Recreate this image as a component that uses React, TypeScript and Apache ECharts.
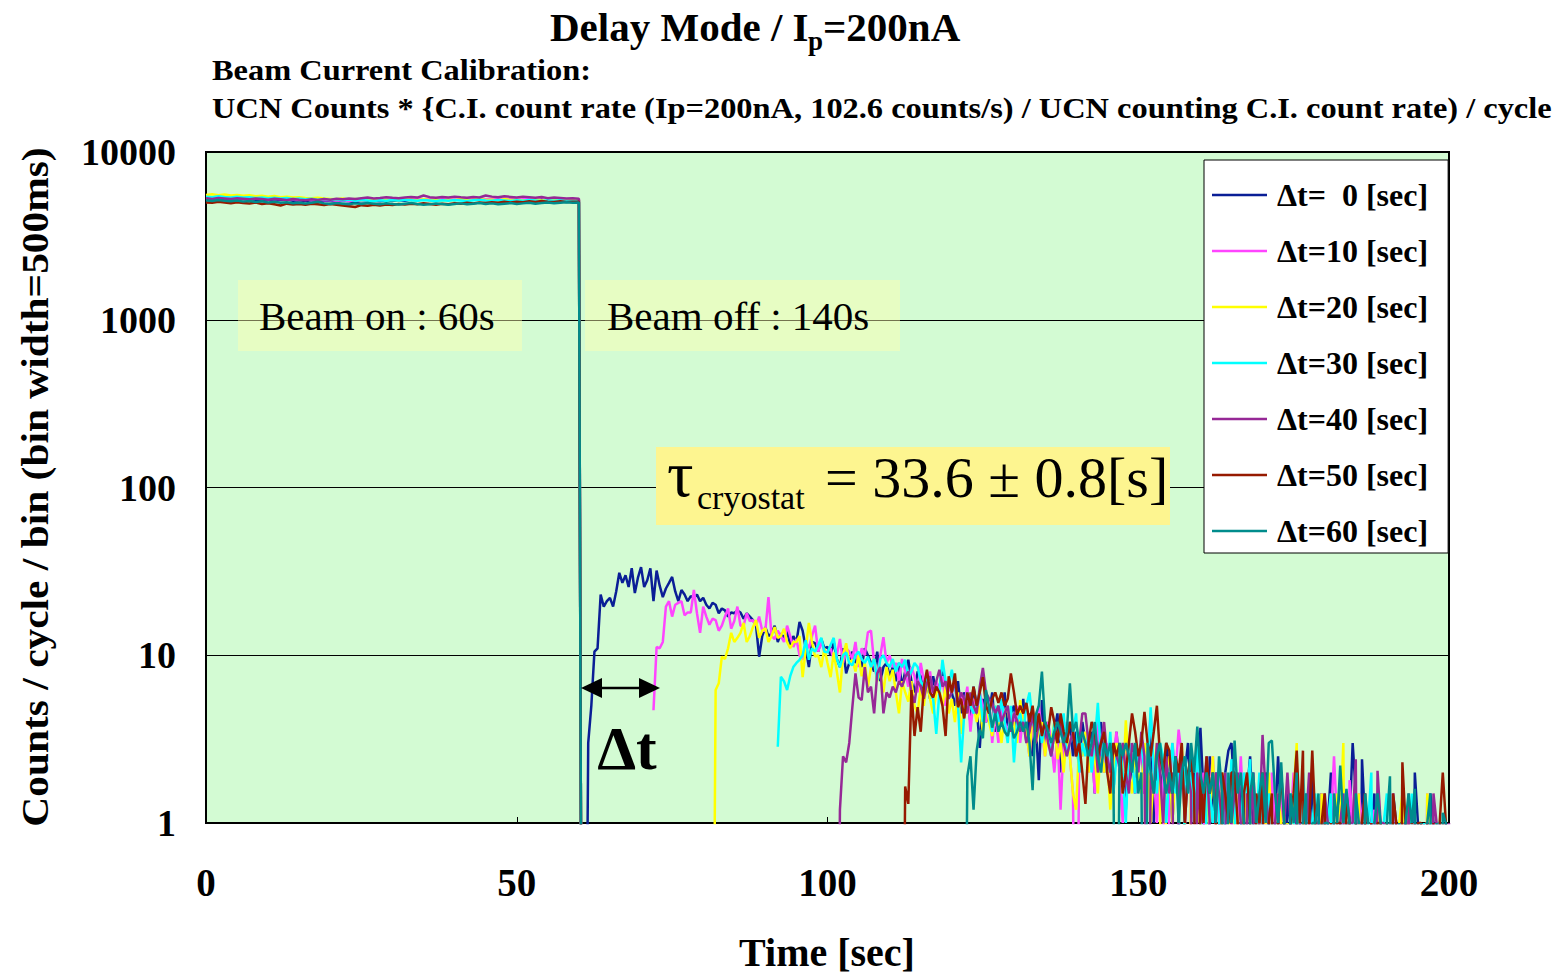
import { useEffect, useRef } from 'react';
import * as echarts from 'echarts';

const FONT = '"Liberation Serif", "Times New Roman", Times, serif';

// ---- legend / series names and colours
const seriesNames = ['Δt=  0 [sec]', 'Δt=10 [sec]', 'Δt=20 [sec]', 'Δt=30 [sec]', 'Δt=40 [sec]', 'Δt=50 [sec]', 'Δt=60 [sec]'];
const seriesColors = ['#0a1e96', '#ff44ff', '#ffff00', '#00ffff', '#962896', '#961a00', '#008c8c'];

// ---- ticks
const xTicks = [0, 50, 100, 150, 200];
const yTicks = [1, 10, 100, 1000, 10000];

// ---- beam-on part: one value per second, t = 0 ... 60 s
const beamOn0 = [5300,5280,5320,5250,5300,5260,5220,5250,5200,5180, 5220,5150,5180,5200,5120,5160,5100,5150,5080,5120, 5100,5050,5120,5080,5020,5100,5060,5120,5080,5150, 5100,5180,5120,5200,5160,5220,5180,5150,5200,5230, 5180,5220,5160,5200,5250,5180,5220,5260,5200,5180, 5230,5200,5250,5180,5220,5200,5160,5200,5180,5150,5180];
const beamOn10 = [5350,5320,5380,5300,5340,5280,5320,5260,5300,5240, 5280,5220,5260,5200,5240,5180,5220,5160,5200,5150, 5180,5120,5160,5100,5150,5120,5180,5140,5200,5160, 5220,5180,5250,5200,5280,5230,5260,5200,5240,5280, 5230,5260,5300,5240,5280,5220,5260,5300,5250,5220, 5260,5230,5280,5240,5200,5250,5220,5260,5230,5200,5220];
const beamOn20 = [5550,5600,5520,5580,5500,5540,5480,5520,5450,5480, 5420,5460,5380,5420,5350,5380,5320,5300,5340,5280, 5250,5220,5280,5200,5240,5150,5200,5180,5220,5160, 5200,5180,5240,5200,5160,5220,5180,5200,5150,5200, 5180,5220,5160,5200,5240,5180,5200,5160,5220,5180, 5200,5150,5180,5220,5160,5200,5180,5150,5200,5170,5180];
const beamOn30 = [5420,5380,5450,5400,5360,5420,5350,5380,5320,5350, 5300,5340,5280,5320,5250,5280,5220,5260,5200,5240, 5180,5220,5150,5200,5120,5180,5140,5100,5160,5120, 5180,5140,5200,5160,5120,5180,5140,5100,5160,5120, 5180,5140,5100,5160,5200,5140,5120,5180,5140,5100, 5160,5120,5180,5140,5100,5160,5120,5150,5130,5100,5120];
const beamOn40 = [5300,5250,5320,5280,5240,5300,5260,5220,5280,5240, 5200,5260,5220,5180,5250,5200,5160,5220,5180,5240, 5200,5260,5220,5280,5240,5300,5350,5280,5320,5380, 5330,5300,5360,5400,5350,5500,5380,5340,5400,5360, 5420,5370,5330,5400,5360,5500,5420,5380,5440,5400, 5360,5420,5380,5340,5400,5300,5350,5320,5280,5300,5260];
const beamOn50 = [5000,4980,5050,5000,4950,5020,4970,4930,5000,4900, 4950,4880,4800,4920,4870,4900,4850,4920,4880,4830, 4900,4850,4800,4750,4700,4820,4780,4850,4800,4870, 4830,4900,4860,4920,4880,4950,4900,4850,4920,4880, 4950,4910,4980,4940,5000,4960,5020,4980,5050,5000, 5060,5020,5080,5040,5100,5060,5030,5080,5040,5060,5050];
const beamOn60 = [5150,5100,5180,5120,5080,5140,5060,5100,5040,5080, 5000,5050,4980,5020,4950,4990,4930,4980,5050,4940, 4900,4960,4920,4880,4940,4900,4960,4920,4880,4950, 4900,4860,4920,4960,4900,4850,4880,4930,4890,4850, 4900,4940,4880,4920,4960,4900,4940,4880,4920,4960, 4900,4940,4980,4920,4960,5000,4950,4990,5020,4980,5000];

// ---- beam-off part: 0.5 s bins, starting at decayStart[i]; 0 = empty bin
const decayStart = [60.5, 72.0, 80.0, 92.0, 101.5, 111.5, 121.5];

const decay0 = [0,0,3,5,10.5,11,23,19.5,21, 22,19.5,24,31,27,30,25.5,33,23.5,29,
  33.5,25.5,28,33,21,32,26,22.2,25,27, 29.3,24,21,24.5,23,21,22.5,22,23,21,
  22,20,19,20.5,20,17.8,19,18.5,17,18, 17.8,18.5,18,16.5,17.8,17,16.2,15,9.8,13,
  14.7,13,13.5,15,12,13.5,12.7,14,11.5,13, 12,15.8,14,11,8.5,12,11.8,10.5,12.5,11,
  11.2,10,12,9.5,8.5,11,7.8,9,10.5,9, 9.8,8.5,11,10,9,8,10.5,7,8.5,9,
  7.5,8.5,7,9,6.5,8,9.4,7,6,8, 7.5,6,7,5.5,7.5,6,6.5,8,5.5,6.5,
  6,5,7,4.5,6,5.5,4,6.5,5,2.8, 5.5,4,4.5,6,3.5,5,4,6,3.5,4.5,
  5,3.5,4,5.5,3,4.5,2.5,4,1.8,5.4, 3,4,2.5,3.5,4.5,2,3.5,3,4,2.5,
  3.5,2,4,3,2.5,3.5,1.5,3,4,2, 2.5,3,1.5,3.5,2,2.5,1.2,3,2,1.5,
  2.5,3,1.5,2,3.5,1,2.5,2,1.5,3, 2,1,2.5,1.5,0,2,3,1.5,2,1,
  3.7,1.5,0,2.5,1,2,1.5,0,2,2.7, 3,1.5,1,2,0,1.5,2.5,1,0,1.5,
  1,2,1.5,0,1,2.5,1,0,1.5,1, 0,2,1,0,1.5,1,2,0,1,1.5,
  0,1,2,1,0,1.5,0,1,1,3, 1.5,0,2.4,1,0,1,1.5,0,1,0,
  1,0,1.5,1,0,0,1,1,0,2, 1,0,1,0,1.5,1,0,1,0,1,
  0];
const decay10 = [4.7,11.2,11,12,19.5,21,17,20,20.5,21,17.3,18,18,24.5,17.8,13.6,
  19.5,17,15.2,16.5,16.2,14,15,17,19,14.4, 16,19.5,15,15,17.8,16,16.2,15,17,14,
  14,22.2,13,12.5,14,13,12,15,13,11.2, 12.5,10,9.4,12,11,13,15,10.5,12,10.5,
  10.5,11,9.4,10,12.5,9,11,10.5,9.5,12, 8.5,11,10,13.7,14,9,7.1,10,12.8,9,
  10,8.5,9,7,9.5,8,6.5,8.5,7.5,6, 9,7,6.5,8,5.5,7,6,7.5,5,6.5,
  6,7,4.5,6,5,6.5,3.5,5.5,4.5,6, 5,4,5.5,3,4.5,3,5,4,3.5,4.5,
  4,5,3,4.5,3.5,2.5,4,3,5,3.5, 2.5,4,3,2,3.5,1.2,3,4,2.5,1.5,
  0,3,2.5,3.5,2,3,1.5,4,2.5,2, 3,1.5,2.5,3.5,2,1,3,2,2.5,1.5,
  2,3,1.5,2.5,4.5,2,1,2.5,2,0, 1.5,3,2,3.6,2.5,1.5,0,2,1,2.5,
  1,2,0,1.5,2.5,1,2,0,1.5,1, 2,0,1,2.5,1,0,1.5,2,1,0,
  1.5,1,0,2,1,0,1.5,1,0,1, 2,0,1,0,1.5,1,0,1,0,1.5,
  1,0,1,2.5,1,0,1.5,0,1.8,1, 0,1.5,1,0,0,1,1.2,0,1,0,
  1,0,1.5,0,1,0,1,1,0,1, 0,1,0,1.5,0,1,0,1,0,1,
  0];
const decay20 = [0,0,0,0,6.2,6.8,9.8,9.5,11,13.6, 12,12.7,13.6,15.6,12,13,14.7,16.2,12.7,14,
  14.5,12,13,14.7,12.7,13,14.4,12,11,12, 12,13,7.4,11,15.6,12,9.8,10,8.5,11,
  9,7.4,10.4,8,6,10,11.8,9,9.4,8, 10,7.5,9,6.5,8.5,9.5,7,8,6,8.5,
  7,8.2,6,4.5,7,6,5.3,7,5,4.5, 6.5,5,7,5.5,4.5,6,6.2,5,6.5,4.5,
  5.5,4,6,3.4,5,4.5,6,5,4,5, 3.5,5.5,4,3.3,5,4,3,4.5,5,3.5,
  4,3,5.4,4,3.5,2.5,4.5,3,3.5,4, 2.5,3.5,3,4,2.4,3,2,3.5,2.5,1.5,
  1.2,3,2.5,3.5,2,3,2.5,1.5,3,2, 2.5,1.2,2,3,2.5,1.5,4.1,2,1.5,2.5,
  2,1.5,3,2.5,1,2,3,1.5,0,2, 2.5,1,2,1.5,3,1,0,2,1.5,1,
  2,0,1.5,1,2.5,1,0,2,1,1.5, 0,2,1,0,1.5,1,2,0,1,1.5,
  0,1,2,1,0,1.5,1,0,1,0, 1.5,3,0,1,1,0,1,1,0,1.5,
  1,0,1,0,1.5,1,3,0,1,0, 1,1.5,0,1,0,1,0,1.2,1,0,
  1,0,1,0,1,1.5,0,1,0,1, 0,1,0,1.5,1,0,1,0,1,0,
  0];
const decay30 = [2.85,7.45,7,6.2,7.5,8.5,9,9.4,10,12.3, 9.4,11,10.5,11.5,12.7,10.5,10.4,11.5,12.7,9.5,
  8.5,10,10.4,9,8.7,10,10.5,9.5,9,9.8, 8.5,9.5,7.1,9.5,10,9,8.5,9.5,8,9,
  8.5,9.4,7.5,8,9,8.5,7,6.5,7.5,6, 5.5,3.4,6,9.4,7,6.5,8.2,6.5,5,2.3,
  4.5,6,5,4.5,5.2,6,4,5,4.5,3.5, 5,4,5.5,4,3,5,2.3,4,4.5,3.5,
  5,6,4,3.5,4.5,3,4,3.5,2.5,4, 3,3.5,4.5,2.5,3,3.5,4.5,2,3,2.5,
  3.5,2,3,5.2,2.5,3,2,3.5,1.5,2.5, 3,2,1,3,2.5,1.5,2.5,3,2,2,
  4.9,2,1.5,3,2.5,1,2,3,1.5,2, 0,2.5,1.5,2,1,3,1.5,0,2,1.5,
  1,2,1.5,0,2,1,2.4,1.5,0,1, 2,1.5,2.4,0,1,2,1,0,1.5,1,
  0,1,2,1,0,1.5,1,0,1,2, 1,0,1,1.5,0,1,0,1,1.5,0,
  1,0,1.5,1,0,1,1.5,0,1,0, 1,2,0,1,0,1,1.5,0,1,0,
  1,0,1,0,1.5,0,1,0,1,0, 1,0,1,1,0,1,0];
const decay40 = [0,1.2,2.5,2.3,3,4.9,7.8,5.6,5.4,8.5, 6,6.5,4.5,7.8,8.5,4.5,6,5.6,6.5,6,
  7,6.5,7.4,8,6,5.2,7,6.5,5.5,6.8, 7.5,6,7,8.2,6.5,7,5.5,6,7,5,
  6,5.5,4.5,6,5,4.5,6.5,8.4,6,5.5, 5.2,4.5,5,4,4.5,5,3.5,4.5,4.1,3.5,
  4,3,3.5,4.5,3,4,3.5,4,3,2.5, 3.5,3,4,3,2.5,3,3.5,2.5,3,4.5,
  4.5,3,2.5,3.5,2,3,4,2.5,2,3, 2.5,2.2,3,2,1.5,3,2.5,2,3.5,2.5,
  0,2,1.5,3,2,1,2.5,1.5,2,0, 1.5,2.5,1,2,1.5,0,2,1,1.5,2.5,
  1,0,2,1.5,1,2,0,1,1.5,2, 1,0,1.5,1,2,0,1,3.35,1.5,1,
  0,1,1.5,0,1,2,1,0,1,1.5, 0,1,2,0,1,1,0,1.5,1,0,
  1,0,1,1.5,0,1,1,2.4,0,1, 1.5,0,1,0,2.05,1,1,0,1,0,
  1,0,1,0,1.5,0,1,0,1,0, 1,0,1.5,1,0,1,0,1];
const decay50 = [0,0,1.65,1.3,6.2,3.3,4.9,3.5,6.5,8.2, 6,5.6,6.5,6,5,3.3,7.5,6,7.8,4.9,
  5.5,4.2,6,5,6.5,5,6,7.4,5,4.5, 5.5,6,5.2,6,5,5.5,7.8,6,4.4,5,
  4.5,5.2,4,5,3.5,4.5,3.3,4,3.5,4.9, 4,3,4.5,3.5,3,4,3.5,2.5,3,2,
  1.3,3,4,3.5,2.5,3,3.5,2,1.5,3, 2.5,3,1.5,2,3,4.5,3.5,2.5,3,4.6,
  3,2.5,3.5,5,2.5,2,3,2.7,1.5,2.5, 2,3,1,2,2.5,1.5,0,2,1,2.5,
  1.5,2,1,0,2,1.5,1,2,2,1, 0,1.5,2,1,0,1.5,1,2,0,1,
  1.5,0,1,2,1,0,1,1.5,2.7,1, 2.7,0,1,2.7,1,0,1,1.5,0,1,
  0,1,1,0,1.5,1,0,1,0,1, 1.5,0,1,0,1,1,0,1,0,1.5,
  1,0,2.3,1,0,1,0,1,1,0, 1,0,1,0,1,2,1,0];
const decay60 = [0,0,1.9,2.5,1.2,2.7,3.6,3.2,6.2,4.9, 3.7,4.5,3.5,4,3.5,3.3,4,3.2,3.5,4,
  3.5,4,3,1.57,4.4,5,8,4,3.5,3, 3.5,4,3.5,3,3.5,6.8,3.5,4,3,3.5,
  3,2.5,3,4,2.5,2,3,2.5,3,2, 0,3,2.5,3,2.5,2,3,1.5,2,0,
  3,2,1.5,2.5,3,2,1.5,2,1.5,2.5, 1,2,2.5,1.5,3,2,3.75,2,1.5,2,
  1.5,2,1,2.5,1.5,0,2,1,3.1,1.5, 2,1,0,1.5,2,1,1.5,2,1,3,
  3.1,1.5,1,2.3,1,0,1.5,1,2,0, 1,1.5,0,1,1,1.5,0,1,1,0,
  1.5,1,2.2,1,1.6,1,0,1.5,1,0, 1.5,1,0,1,1.5,1,0,1,1.9,0,
  0,1,0,1,1.5,1,1.6,0,1,0, 1,1.5,0,1,0,1.15,1,0];

const beamOnData = [beamOn0, beamOn10, beamOn20, beamOn30, beamOn40, beamOn50, beamOn60];
const decayData = [decay0, decay10, decay20, decay30, decay40, decay50, decay60];

const BEAM_STEP = 1;
const BIN = 0.5;
const BEAM_OFF_T = 60.5;
const FLOOR = 0.01; // empty bins sit below the log axis floor

function buildPoints(on: number[], start: number, dec: number[]) {
  const pts: (number | null)[][] = [];
  on.forEach((v, i) => pts.push([i * BEAM_STEP, v]));
  if (start > BEAM_OFF_T) {
    pts.push([BEAM_OFF_T, FLOOR]);
    pts.push([(BEAM_OFF_T + start) / 2, null]);
  }
  dec.forEach((v, i) => {
    const t = start + i * BIN;
    if (t <= 200) pts.push([t, v === 0 ? FLOOR : v]);
  });
  return pts;
}

function txt(text: string, x: number, y: number, size: number, o: any = {}) {
  const align = o.align || 'left';
  return {
    type: 'text',
    x,
    y,
    z: 120,
    rotation: o.rotation || 0,
    scaleX: o.scaleX || 1,
    style: {
      text,
      fontSize: size,
      fontFamily: FONT,
      fontWeight: o.bold === false ? 'normal' : 'bold',
      fill: '#000',
      align,
      textAlign: align,
      verticalAlign: 'middle',
      textVerticalAlign: 'middle',
    },
  };
}

export default function App() {
  const ref = useRef<HTMLDivElement>(null);
  useEffect(() => {
    const chart = echarts.init(ref.current!, null, { renderer: 'svg' });
    const series = seriesNames.map((name, i) => ({
      name,
      type: 'line',
      data: buildPoints(beamOnData[i], decayStart[i], decayData[i]),
      showSymbol: false,
      symbol: 'none',
      connectNulls: false,
      clip: true,
      lineStyle: { color: seriesColors[i], width: 2.5 },
      itemStyle: { color: seriesColors[i] },
      emphasis: { disabled: true },
      z: 2 + i * 0.01,
    }));

    const option: any = {
      animation: false,
      backgroundColor: '#ffffff',
      grid: {
        left: 206,
        right: 116,
        top: 152,
        bottom: 150,
        show: true,
        backgroundColor: '#d3fbd3',
        borderColor: '#000',
        borderWidth: 2,
      },
      xAxis: {
        type: 'value',
        min: xTicks[0],
        max: xTicks[xTicks.length - 1],
        interval: 50,
        axisLine: { show: true, lineStyle: { color: '#000', width: 2 } },
        axisTick: { show: true, inside: true, length: 6, lineStyle: { color: '#000', width: 1 } },
        splitLine: { show: false },
        axisLabel: {
          margin: 40,
          fontFamily: FONT,
          fontWeight: 'bold',
          fontSize: 39,
          color: '#000',
          formatter: (v: number) => String(v),
        },
      },
      yAxis: {
        type: 'log',
        logBase: 10,
        min: yTicks[0],
        max: yTicks[yTicks.length - 1],
        axisLine: { show: true, lineStyle: { color: '#000', width: 2 } },
        axisTick: { show: false },
        splitLine: { show: true, lineStyle: { color: '#000', width: 1 } },
        axisLabel: {
          margin: 30,
          fontFamily: FONT,
          fontWeight: 'bold',
          fontSize: 38,
          color: '#000',
          formatter: (v: number) => String(Math.round(v)),
        },
      },
      legend: {
        orient: 'vertical',
        left: 1204,
        top: 160,
        icon: 'rect',
        itemWidth: 55,
        itemHeight: 2.5,
        itemGap: 24,
        padding: [19, 20, 6, 8],
        backgroundColor: '#ffffff',
        borderColor: '#000',
        borderWidth: 1,
        borderRadius: 0,
        selectedMode: false,
        data: seriesNames,
        textStyle: {
          fontFamily: FONT,
          fontWeight: 'bold',
          fontSize: 32,
          color: '#000',
          padding: [0, 0, 0, 5],
        },
      },
      graphic: {
        elements: [
          // titles
          txt('Delay Mode / I', 550, 27, 41),
          txt('p', 808, 41, 27),
          txt('=200nA', 823, 27, 41),
          txt('Beam Current Calibration:', 212, 70, 30, { scaleX: 1.08 }),
          txt('UCN Counts * {C.I. count rate (Ip=200nA, 102.6 counts/s) / UCN counting C.I. count rate) / cycle', 212, 108, 30, { scaleX: 1.08 }),
          // axis names
          txt('Counts / cycle / bin (bin width=500ms)', 36, 487, 38, { align: 'center', rotation: Math.PI / 2, scaleX: 1.09 }),
          txt('Time [sec]', 827, 952, 40, { align: 'center' }),
          // beam on / off boxes
          { type: 'rect', z: 100, shape: { x: 238, y: 280, width: 284, height: 71 }, style: { fill: 'rgba(255,255,175,0.45)' } },
          txt('Beam on : 60s', 259, 316, 41, { bold: false }),
          { type: 'rect', z: 100, shape: { x: 585, y: 280, width: 315, height: 71 }, style: { fill: 'rgba(255,255,175,0.45)' } },
          txt('Beam off : 140s', 607, 316, 41, { bold: false }),
          // tau box
          { type: 'rect', z: 100, shape: { x: 656, y: 447, width: 514, height: 78 }, style: { fill: '#fdf590' } },
          txt('τ', 667, 473, 66, { bold: false }),
          txt('cryostat', 697, 497, 34, { bold: false }),
          txt('= 33.6 ± 0.8[s]', 825, 477, 58, { bold: false }),
          // delta-t arrow
          { type: 'line', z: 110, shape: { x1: 598, y1: 688, x2: 644, y2: 688 }, style: { stroke: '#000', lineWidth: 2.5 } },
          { type: 'polygon', z: 110, shape: { points: [[581, 688], [602, 678], [602, 698]] }, style: { fill: '#000' } },
          { type: 'polygon', z: 110, shape: { points: [[660, 688], [639, 678], [639, 698]] }, style: { fill: '#000' } },
          txt('Δt', 627, 748, 62, { align: 'center' }),
        ],
      },
      series,
    };
    chart.setOption(option);
    return () => chart.dispose();
  }, []);
  return <div ref={ref} style={{ position: 'fixed', left: 0, top: 0, width: 1565, height: 973 }} />;
}
